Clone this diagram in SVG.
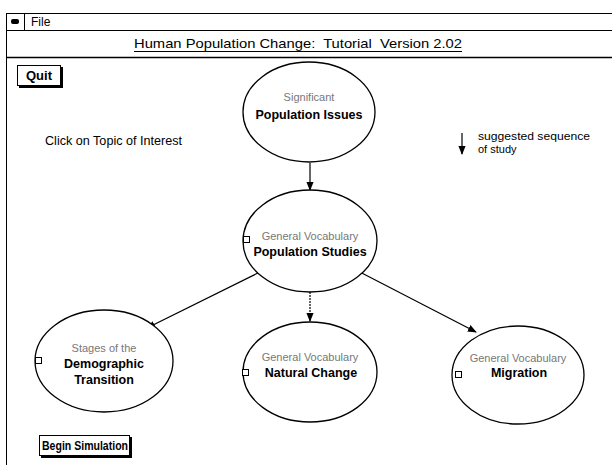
<svg xmlns="http://www.w3.org/2000/svg" width="612" height="465" viewBox="0 0 612 465">
  <defs>
    <marker id="arrow" viewBox="0 0 10 10" refX="9" refY="5" markerWidth="9" markerHeight="9" markerUnits="userSpaceOnUse" orient="auto">
      <path d="M0,1 L10,5 L0,9 z" fill="#000"/>
    </marker>
  </defs>
  <style>
    text { font-family: "Liberation Sans", Arial, sans-serif; fill: #000; }
    .node ellipse { fill: #fff; stroke: #000; stroke-width: 1.3; }
    .sub { font-size: 11px; fill: #777; text-anchor: middle; }
    .main { font-size: 12.5px; font-weight: bold; text-anchor: middle; }
    .plain { font-size: 12px; }
    .small { font-size: 11px; }
    .tab { fill: #fff; stroke: #000; stroke-width: 1; }
    .btn rect.face { fill: #fff; stroke: #000; stroke-width: 1; }
    .btn rect.shadow { fill: #000; }
    .btn text { font-size: 13px; font-weight: bold; text-anchor: middle; }
    .edge { stroke: #000; stroke-width: 1.2; fill: none; marker-end: url(#arrow); }
    .frame { stroke: #000; fill: none; }
  </style>

  <rect width="612" height="465" fill="#fff"/>

  <!-- window frame, menu bar and title bar -->
  <g id="window">
    <line class="frame" x1="6" y1="13.5" x2="612" y2="13.5" stroke-width="1.2"/>
    <line class="frame" x1="6" y1="30.5" x2="612" y2="30.5" stroke-width="1"/>
    <line class="frame" x1="6" y1="57.5" x2="612" y2="57.5" stroke-width="1.6"/>
    <line class="frame" x1="6.5" y1="13" x2="6.5" y2="465" stroke-width="1"/>
    <line class="frame" x1="24.5" y1="13" x2="24.5" y2="30" stroke-width="1"/>
    <rect x="11" y="19" width="8" height="5" rx="2" fill="#000"/>
    <text x="31" y="26" font-size="12">File</text>
    <text x="134" y="48" font-size="13" xml:space="preserve" textLength="328" lengthAdjust="spacingAndGlyphs">Human Population Change:  Tutorial  Version 2.02</text>
    <line x1="134" y1="51.5" x2="462" y2="51.5" stroke="#000" stroke-width="1"/>
  </g>

  <!-- buttons -->
  <g id="quit" class="btn">
    <rect class="shadow" x="19" y="67" width="44" height="21"/>
    <rect class="face" x="17.5" y="65.5" width="43" height="20"/>
    <text x="39" y="80">Quit</text>
  </g>
  <g id="begin-simulation" class="btn">
    <rect class="shadow" x="41" y="437" width="91" height="21"/>
    <rect class="face" x="39.5" y="435.5" width="90" height="20"/>
    <text x="85" y="450" textLength="86" lengthAdjust="spacingAndGlyphs">Begin Simulation</text>
  </g>

  <!-- notes -->
  <g id="hint">
    <text class="plain" x="45" y="145" textLength="137" lengthAdjust="spacingAndGlyphs">Click on Topic of Interest</text>
  </g>
  <g id="legend">
    <line x1="462" y1="133" x2="462" y2="154" stroke="#000" stroke-width="1.2" marker-end="url(#arrow)"/>
    <text class="small" x="478" y="140" textLength="112" lengthAdjust="spacingAndGlyphs">suggested sequence</text>
    <text class="small" x="478" y="153">of study</text>
  </g>

  <!-- connectors -->
  <g id="connectors">
    <line class="edge" x1="310" y1="163" x2="310" y2="190"/>
    <line class="edge" x1="266" y1="269" x2="147" y2="328"/>
    <line class="edge" x1="310" y1="292" x2="310" y2="321" stroke-dasharray="2 1"/>
    <line class="edge" x1="354" y1="269" x2="476" y2="332"/>
  </g>

  <!-- topic nodes -->
  <g id="population-issues" class="node">
    <ellipse cx="309" cy="112" rx="66" ry="50"/>
    <text class="sub" x="309" y="101">Significant</text>
    <text class="main" x="309" y="119">Population Issues</text>
  </g>

  <g id="population-studies" class="node">
    <ellipse cx="310" cy="241" rx="67" ry="51"/>
    <rect class="tab" x="243.5" y="236.5" width="6" height="6"/>
    <text class="sub" x="310" y="240">General Vocabulary</text>
    <text class="main" x="310" y="256">Population Studies</text>
  </g>

  <g id="demographic-transition" class="node">
    <ellipse cx="104" cy="361" rx="69" ry="51"/>
    <rect class="tab" x="35.5" y="357.5" width="6" height="6"/>
    <text class="sub" x="104" y="352">Stages of the</text>
    <text class="main" x="104" y="368">Demographic</text>
    <text class="main" x="104" y="384">Transition</text>
  </g>

  <g id="natural-change" class="node">
    <ellipse cx="310" cy="372" rx="67" ry="50"/>
    <rect class="tab" x="242.5" y="369.5" width="6" height="6"/>
    <text class="sub" x="310" y="361">General Vocabulary</text>
    <text class="main" x="311" y="377">Natural Change</text>
  </g>

  <g id="migration" class="node">
    <ellipse cx="518" cy="375" rx="66" ry="49"/>
    <rect class="tab" x="455.5" y="371.5" width="6" height="6"/>
    <text class="sub" x="518" y="362">General Vocabulary</text>
    <text class="main" x="519" y="377">Migration</text>
  </g>
</svg>
